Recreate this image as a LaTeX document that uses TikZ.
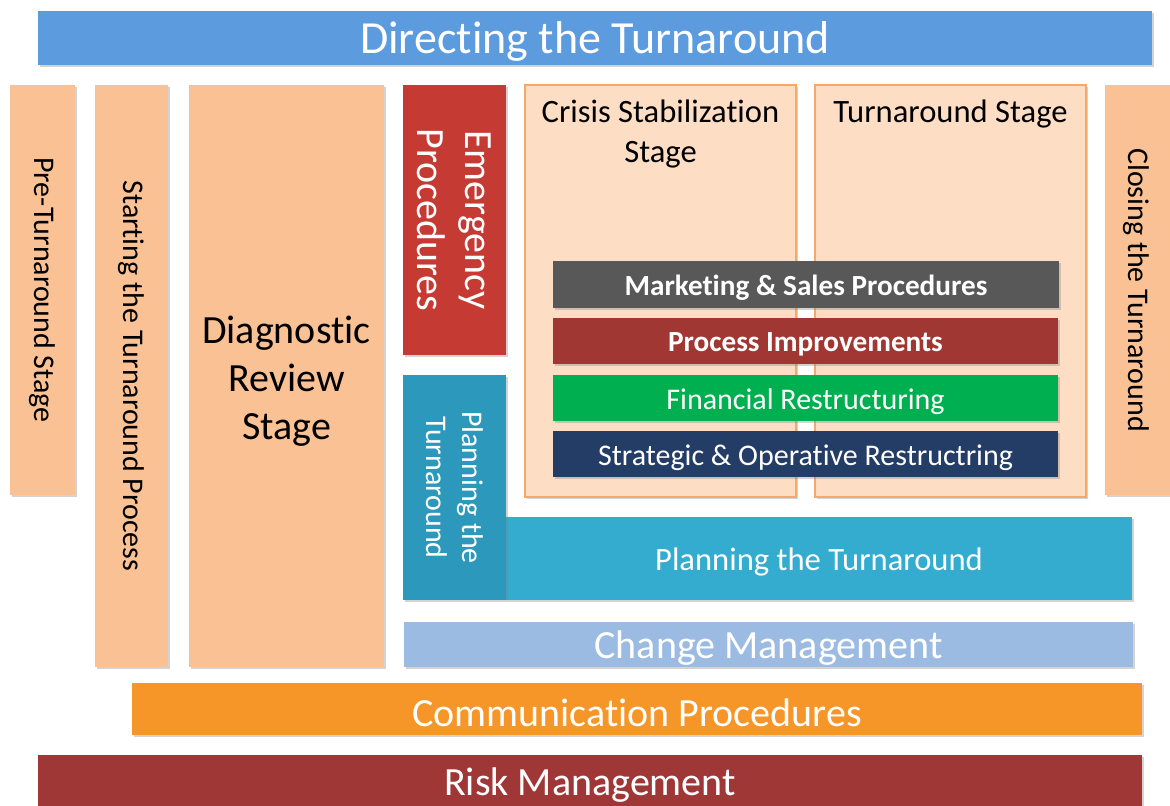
\documentclass[tikz,border=0pt]{standalone}
\usepackage{fontspec}
\setmainfont{Carlito}[Ligatures={TeX,NoCommon}]
\usetikzlibrary{shadows}

\definecolor{DirBlue}{RGB}{91,155,222}
\definecolor{Peach}{RGB}{250,194,148}
\definecolor{PeachLight}{RGB}{253,222,196}
\definecolor{PeachLine}{RGB}{246,168,104}
\definecolor{EmRed}{RGB}{198,58,52}
\definecolor{MktGray}{RGB}{88,88,88}
\definecolor{ProcRed}{RGB}{160,55,50}
\definecolor{FinGreen}{RGB}{0,176,80}
\definecolor{StratNavy}{RGB}{36,61,102}
\definecolor{PlanTeal}{RGB}{52,172,208}
\definecolor{PlanTealDark}{RGB}{44,152,188}
\definecolor{ChangeBlue}{RGB}{155,187,227}
\definecolor{CommOrange}{RGB}{247,150,40}
\definecolor{RiskRed}{RGB}{160,55,55}

\newcommand{\Px}{0.5pt}
% box from its corners: name, left, top, right, bottom, style
\newcommand{\Block}[6]{
	\node[#6, anchor=north west, minimum width={(#4-#2)*\Px}, minimum height={(#5-#3)*\Px}] (#1) at (#2,#3) {};
}

\tikzset{
	box/.style={draw=none, inner sep=0pt, outer sep=0pt,
		drop shadow={opacity=0.35, shadow xshift=1pt, shadow yshift=-1pt}},
	stagebox/.style={box, fill=PeachLight, draw=PeachLine, line width=0.6pt},
	white text/.style={text=white, inner sep=0pt, align=center},
	black text/.style={text=black, inner sep=0pt, align=center},
	lower/.style={yshift=-1.7pt},
	huge/.style={font=\fontsize{23}{28}\selectfont},
	big/.style={font=\fontsize{20}{24}\selectfont},
	mid/.style={font=\fontsize{16.3}{20}\selectfont},
	small/.style={font=\fontsize{15}{18}\selectfont},
	smallbold/.style={font=\fontsize{14.6}{18}\selectfont\bfseries},
}

\begin{document}
\begin{tikzpicture}[x=\Px, y=-\Px]
	\useasboundingbox (0,0) rectangle (1170,805);

	\Block{dir}{38}{11}{1152}{65}{box, fill=DirBlue}
	\node[white text, huge, lower] (dir-t) at (dir) {Directing the Turnaround};

	\Block{pre}{10}{85}{75}{495}{box, fill=Peach}
	\node[black text, small, rotate=-90] (pre-t) at (pre) {Pre-Turnaround Stage};
	\Block{start}{95}{85}{168}{667}{box, fill=Peach}
	\node[black text, small, rotate=-90] (start-t) at (start) {Starting the Turnaround Process};
	\Block{diag}{189}{85}{384}{667}{box, fill=Peach}
	\node[black text, big, yshift=-2.5pt] (diag-t) at (diag) {Diagnostic\\Review\\Stage};

	\Block{emerg}{403}{85}{506}{355}{box, fill=EmRed}
	\node[white text, big, rotate=-90] (emerg-t) at (emerg) {Emergency\\Procedures};

	\Block{crisis}{525}{85}{796}{497}{stagebox}
	\node[black text, mid, anchor=north] (crisis-t) at ([yshift=-7pt]crisis.north) {Crisis Stabilization\\Stage};
	\Block{turn}{815}{85}{1086}{497}{stagebox}
	\node[black text, mid, anchor=north] (turn-t) at ([yshift=-7pt]turn.north) {Turnaround Stage};
	\Block{close}{1105}{85}{1172}{495}{box, fill=Peach}
	\node[black text, small, rotate=-90] (close-t) at ([xshift=-1pt]close) {Closing the Turnaround};

	\Block{mktg}{553}{261}{1059}{308}{box, fill=MktGray}
	\node[white text, smallbold, lower] (mktg-t) at (mktg) {Marketing \& Sales Procedures};
	\Block{proc}{553}{318}{1058}{364}{box, fill=ProcRed}
	\node[white text, smallbold, lower] (proc-t) at (proc) {Process Improvements};
	\Block{fin}{553}{375}{1058}{421}{box, fill=FinGreen}
	\node[white text, small, lower] (fin-t) at (fin) {Financial Restructuring};
	\Block{strat}{553}{431}{1058}{477}{box, fill=StratNavy}
	\node[white text, small, lower] (strat-t) at (strat) {Strategic \& Operative Restructring};

	\Block{planh}{506}{517}{1132}{600}{box, fill=PlanTeal}
	\node[white text, mid, lower] (planh-t) at (planh) {Planning the Turnaround};
	\Block{planv}{403}{375}{506}{600}{box, fill=PlanTealDark}
	\node[white text, small, rotate=-90] (planv-t) at (planv) {Planning the\\Turnaround};

	\Block{change}{404}{622}{1133}{667}{box, fill=ChangeBlue}
	\node[white text, big, lower] (change-t) at (change) {Change Management};
	\Block{comm}{132}{683}{1142}{735}{box, fill=CommOrange}
	\node[white text, big, lower] (comm-t) at (comm) {Communication Procedures};
	\Block{risk}{38}{755}{1142}{808}{box, fill=RiskRed}
	\node[white text, big, lower] (risk-t) at (risk) {Risk Management};
\end{tikzpicture}
\end{document}
